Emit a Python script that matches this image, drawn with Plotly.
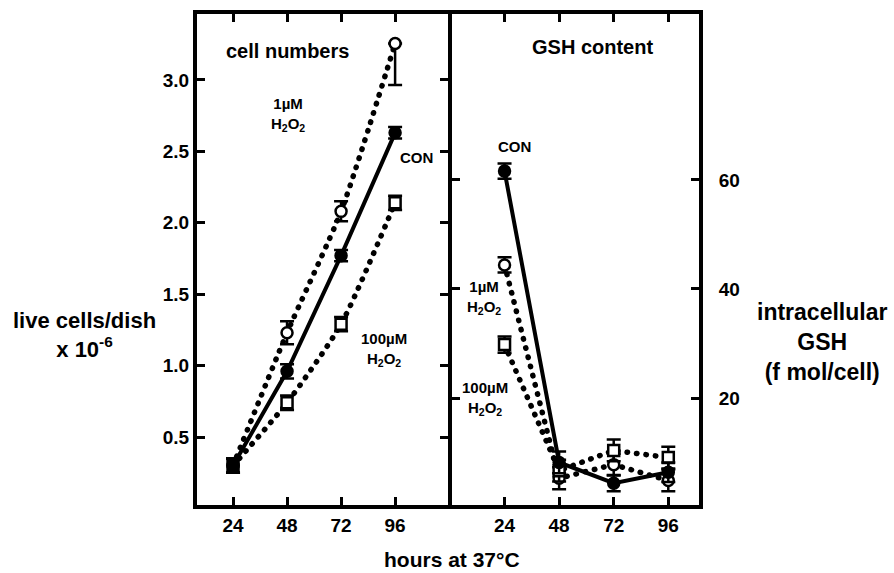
import plotly.graph_objects as go
from plotly.subplots import make_subplots

hours = [24, 48, 72, 96]

# cell numbers (x 10^-6)
cells_con = [0.30, 0.96, 1.77, 2.63]
cells_con_err = [0.05, 0.05, 0.04, 0.04]
cells_1uM = [0.30, 1.23, 2.08, 3.255]
cells_1uM_err_up = [0.05, 0.08, 0.07, 0.0]
cells_1uM_err_dn = [0.05, 0.08, 0.07, 0.29]
cells_100uM = [0.30, 0.74, 1.29, 2.14]
cells_100uM_err = [0.05, 0.05, 0.05, 0.05]

# intracellular GSH (f mol/cell)
gsh_con = [61.6, 8.2, 4.4, 6.4]
gsh_con_err = [1.4, 2.0, 1.5, 1.8]
gsh_1uM = [44.4, 5.3, 7.8, 4.9]
gsh_1uM_err = [1.4, 2.0, 2.0, 2.0]
gsh_100uM = [29.8, 6.7, 10.4, 9.1]
gsh_100uM_err = [1.5, 2.0, 2.0, 2.0]

left_ticks = [0.5, 1.0, 1.5, 2.0, 2.5, 3.0]
left_ticktext = ["0.5", "1.0", "1.5", "2.0", "2.5", "3.0"]
right_ticks = [20, 40, 60]

FONT = "Arial, Liberation Sans, Helvetica, sans-serif"
BLK = "black"
DOT = "0.5px,9px"

plot_l, plot_r, plot_t, plot_b = 197, 195, 10, 68
pw = 894 - plot_l - plot_r
ph = 573 - plot_t - plot_b
split_px = 253  # divider position from plot left

fig = make_subplots(rows=1, cols=2, horizontal_spacing=0.0)


def add_series(col, y, err_up, err_dn, symbol, fill, dash, shape):
    fig.add_trace(go.Scatter(
        x=hours, y=y, mode="lines",
        line=dict(color=BLK, width=5.5 if dash else 4, dash=dash or "solid", shape=shape, smoothing=0.6),
        hoverinfo="skip", showlegend=False), row=1, col=col)
    fig.add_trace(go.Scatter(
        x=hours, y=y, mode="markers",
        marker=dict(symbol=symbol, size=11, color=fill, line=dict(color=BLK, width=2.5)),
        error_y=dict(type="data", symmetric=False, array=err_up, arrayminus=err_dn,
                     color=BLK, thickness=2.5, width=7),
        showlegend=False), row=1, col=col)


# left panel
add_series(1, cells_1uM, cells_1uM_err_up, cells_1uM_err_dn, "circle", "white", DOT, "spline")
add_series(1, cells_100uM, cells_100uM_err, cells_100uM_err, "square", "white", DOT, "spline")
add_series(1, cells_con, cells_con_err, cells_con_err, "circle", BLK, None, "linear")
# right panel
add_series(2, gsh_1uM, gsh_1uM_err, gsh_1uM_err, "circle", "white", DOT, "linear")
add_series(2, gsh_100uM, gsh_100uM_err, gsh_100uM_err, "square", "white", DOT, "linear")
add_series(2, gsh_con, gsh_con_err, gsh_con_err, "circle", BLK, None, "linear")

axcommon = dict(showgrid=False, zeroline=False, showline=True, linecolor=BLK, linewidth=4,
                ticks="inside", ticklen=8, tickwidth=2.5, tickcolor=BLK, mirror="ticks",
                tickfont=dict(family=FONT, size=19, color=BLK, weight="bold"))

fig.update_xaxes(**axcommon, tickvals=hours, ticktext=[str(h) for h in hours])
fig.update_xaxes(range=[8.0, 119.5], domain=[0, (split_px - 2) / pw], row=1, col=1)
fig.update_xaxes(range=[0.9, 109.5], domain=[(split_px + 2) / pw, 1], row=1, col=2)
fig.update_yaxes(**axcommon)
fig.update_yaxes(range=[0.024, 3.462], tickvals=left_ticks, ticktext=left_ticktext, row=1, col=1)
fig.update_yaxes(range=[0.4, 90.4], tickvals=right_ticks, side="right", ticklabelstandoff=12,
                 row=1, col=2)

ann_font = dict(family=FONT, size=15, color=BLK, weight="bold")
annotations = [
    dict(text="cell numbers", x=48.2, y=3.20, xref="x", yref="y", font=ann_font | dict(size=20)),
    dict(text="1µM<br>H<sub>2</sub>O<sub>2</sub>", x=48.2, y=2.76, xref="x", yref="y", font=ann_font),
    dict(text="CON", x=105.5, y=2.46, xref="x", yref="y", font=ann_font),
    dict(text="100µM<br>H<sub>2</sub>O<sub>2</sub>", x=90.9, y=1.11, xref="x", yref="y", font=ann_font),
    dict(text="GSH content", x=62.8, y=84.4, xref="x2", yref="y2", font=ann_font | dict(size=20)),
    dict(text="CON", x=28.4, y=66.2, xref="x2", yref="y2", font=ann_font),
    dict(text="1µM<br>H<sub>2</sub>O<sub>2</sub>", x=14.8, y=38.4, xref="x2", yref="y2", font=ann_font),
    dict(text="100µM<br>H<sub>2</sub>O<sub>2</sub>", x=15.3, y=20.0, xref="x2", yref="y2", font=ann_font),
    dict(text="live cells/dish<br>x 10<sup>-6</sup>", x=84, y=573 - 334, xref="paper", yref="paper",
         font=ann_font | dict(size=22)),
    dict(text="intracellular<br>GSH<br>(f mol/cell)", x=822, y=573 - 341, xref="paper", yref="paper",
         font=ann_font | dict(size=23)),
    dict(text="hours at 37°C", x=452, y=573 - 560, xref="paper", yref="paper",
         font=ann_font | dict(size=21)),
]
for a in annotations:
    a.setdefault("showarrow", False)
    if a["xref"] == "paper":
        a["x"] = (a["x"] - plot_l) / pw
        a["y"] = (a["y"] - plot_b) / ph
        a["xanchor"] = "center"
        a["yanchor"] = "middle"

fig.update_layout(
    width=894, height=573,
    margin=dict(l=plot_l, r=plot_r, t=plot_t, b=plot_b),
    plot_bgcolor="white", paper_bgcolor="white",
    annotations=annotations,
    showlegend=False,
)

post = """
document.body.style.margin = '0';
var gd = document.getElementById('{plot_id}');
function roundCaps() {
  gd.querySelectorAll('.scatterlayer .js-line').forEach(function (p) {
    p.style.strokeLinecap = 'round';
  });
}
roundCaps();
if (gd.on) { gd.on('plotly_afterplot', roundCaps); }
setTimeout(roundCaps, 50);
"""

fig.write_html("out.html", post_script=post, config={"displayModeBar": False})
